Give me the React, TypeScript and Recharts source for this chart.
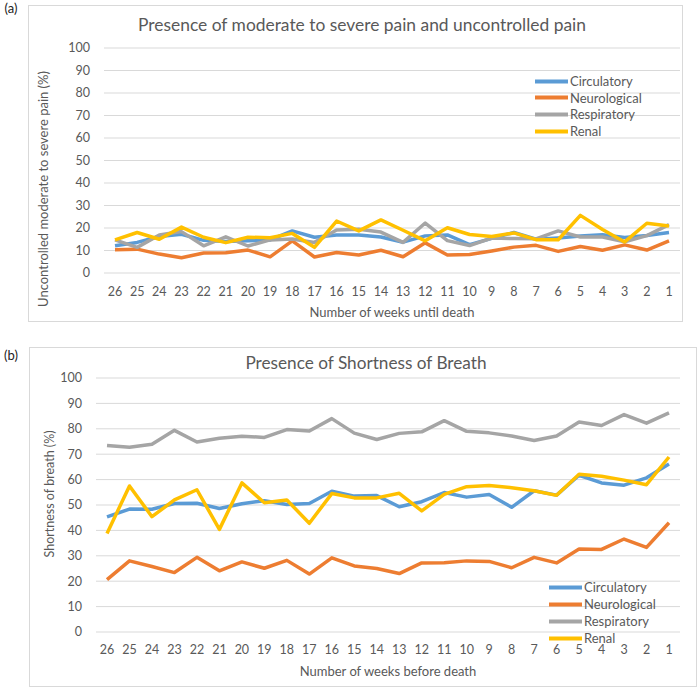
import React from "react";
import { LineChart, Line, XAxis, YAxis, CartesianGrid } from "recharts";

// weeks run from 26 down to 1
const weeks = [
  "26", "25", "24", "23", "22", "21", "20", "19", "18", "17", "16", "15", "14",
  "13", "12", "11", "10", "9", "8", "7", "6", "5", "4", "3", "2", "1",
];

const yTicks = [0, 10, 20, 30, 40, 50, 60, 70, 80, 90, 100];

// (a) uncontrolled moderate to severe pain, %
const painCirculatory = [
  12.1, 13.6, 16.2, 17.2, 14.5, 14.0, 14.3, 14.7, 18.7, 15.9, 16.9, 16.9, 16.0,
  13.7, 16.5, 16.9, 12.6, 15.4, 18.0, 15.0, 15.6, 16.4, 17.0, 15.8, 16.7, 18.0,
];
const painNeurological = [
  10.3, 10.6, 8.4, 6.8, 8.9, 9.0, 10.2, 7.2, 14.3, 7.1, 9.1, 8.0, 10.1,
  7.2, 13.4, 8.0, 8.2, 9.8, 11.5, 12.3, 9.6, 11.8, 10.1, 12.5, 10.2, 14.3,
];
const painRespiratory = [
  14.7, 11.4, 16.9, 18.4, 12.1, 16.1, 12.0, 14.7, 15.1, 13.6, 19.1, 19.4, 18.2,
  13.6, 22.2, 14.4, 12.2, 15.5, 15.3, 15.2, 18.7, 16.0, 16.0, 13.9, 16.6, 21.5,
];
const painRenal = [
  14.7, 18.0, 15.0, 20.4, 15.9, 13.5, 15.9, 15.7, 17.6, 11.4, 23.1, 18.7, 23.6,
  19.0, 14.3, 20.1, 17.1, 16.2, 17.8, 14.8, 14.8, 25.6, 19.3, 13.8, 22.1, 20.9,
];

// (b) shortness of breath, %
const sobCirculatory = [
  45.3, 48.4, 48.3, 50.6, 50.7, 48.6, 50.5, 51.7, 50.2, 50.6, 55.4, 53.5, 53.7,
  49.3, 51.3, 54.9, 53.1, 54.1, 49.1, 55.6, 53.9, 61.7, 58.7, 57.8, 60.7, 66.1,
];
const sobNeurological = [
  20.6, 28.0, 25.8, 23.4, 29.4, 24.1, 27.6, 25.1, 28.2, 22.8, 29.2, 26.0, 25.0,
  23.0, 27.2, 27.3, 28.0, 27.8, 25.3, 29.4, 27.2, 32.7, 32.5, 36.6, 33.3, 43.0,
];
const sobRespiratory = [
  73.4, 72.7, 73.9, 79.4, 74.8, 76.3, 77.1, 76.6, 79.7, 79.1, 84.0, 78.3, 75.8,
  78.2, 78.8, 83.2, 79.0, 78.4, 77.2, 75.4, 77.2, 82.7, 81.3, 85.6, 82.2, 86.3,
];
const sobRenal = [
  38.8, 57.5, 45.4, 52.0, 56.0, 40.4, 58.7, 50.9, 52.0, 42.8, 54.5, 52.8, 52.8,
  54.6, 47.7, 54.2, 57.2, 57.7, 56.8, 55.6, 53.8, 62.1, 61.3, 59.8, 58.0, 68.9,
];

const series = [
  { key: "circulatory", name: "Circulatory", color: "#5B9BD5" },
  { key: "neurological", name: "Neurological", color: "#ED7D31" },
  { key: "respiratory", name: "Respiratory", color: "#A5A5A5" },
  { key: "renal", name: "Renal", color: "#FFC000" },
];

const makeRows = (c: number[], n: number[], r: number[], k: number[]) =>
  weeks.map((week, i) => ({
    week,
    circulatory: c[i],
    neurological: n[i],
    respiratory: r[i],
    renal: k[i],
  }));

const painRows = makeRows(painCirculatory, painNeurological, painRespiratory, painRenal);
const sobRows = makeRows(sobCirculatory, sobNeurological, sobRespiratory, sobRenal);

const FONT = "Lato, 'Open Sans', sans-serif";
const GREY = "#595959";

function CenterText(props: {
  x: number;
  y: number;
  size: number;
  rotate?: boolean;
  color?: string;
  children: React.ReactNode;
}) {
  return (
    <div
      style={{
        position: "absolute",
        left: props.x,
        top: props.y,
        transform: `translate(-50%, -50%)${props.rotate ? " rotate(-90deg)" : ""}`,
        fontSize: props.size,
        color: props.color || GREY,
        whiteSpace: "nowrap",
        lineHeight: 1,
      }}
    >
      {props.children}
    </div>
  );
}

function LegendBlock(props: { x: number; y: number; gap: number }) {
  return (
    <>
      {series.map((s, i) => (
        <div
          key={s.key}
          style={{
            position: "absolute",
            left: props.x,
            top: props.y + i * props.gap,
            transform: "translateY(-50%)",
            display: "flex",
            alignItems: "center",
            fontSize: 13,
            color: GREY,
            lineHeight: 1,
            whiteSpace: "nowrap",
          }}
        >
          <span style={{ width: 33, height: 4, background: s.color, marginRight: 2 }} />
          <span>{s.name}</span>
        </div>
      ))}
    </>
  );
}

function Panel(props: {
  rows: typeof painRows;
  width: number;
  height: number;
  margin: { top: number; right: number; left: number; bottom: number };
  yWidth: number;
  xHeight: number;
  xMargin: number;
  pad: number;
}) {
  return (
    <LineChart
      width={props.width}
      height={props.height}
      data={props.rows}
      margin={props.margin}
    >
      <CartesianGrid vertical={false} stroke="#d9d9d9" strokeWidth={1} />
      <XAxis
        dataKey="week"
        interval={0}
        axisLine={false}
        tickLine={false}
        tickSize={0}
        tickMargin={props.xMargin}
        height={props.xHeight}
        padding={{ left: props.pad, right: props.pad }}
        tick={{ fill: GREY, fontSize: 12.5, fontFamily: FONT }}
      />
      <YAxis
        domain={[0, 100]}
        ticks={yTicks}
        interval={0}
        width={props.yWidth}
        axisLine={false}
        tickLine={false}
        tickSize={0}
        tickMargin={14}
        tick={{ fill: GREY, fontSize: 12.5, fontFamily: FONT }}
      />
      {series.map((s) => (
        <Line
          key={s.key}
          type="linear"
          dataKey={s.key}
          name={s.name}
          stroke={s.color}
          strokeWidth={3.5}
          strokeLinejoin="round"
          dot={false}
          activeDot={false}
          isAnimationActive={false}
        />
      ))}
    </LineChart>
  );
}

export default function App() {
  return (
    <div
      style={{
        position: "absolute",
        left: 0,
        top: 0,
        width: 700,
        height: 690,
        background: "#fff",
        fontFamily: FONT,
      }}
    >
      <CenterText x={11} y={8} size={13} color="#222">(a)</CenterText>
      <div
        style={{
          position: "absolute",
          left: 28,
          top: 5,
          width: 655,
          height: 317,
          border: "1px solid #d9d9d9",
          boxSizing: "border-box",
        }}
      >
        <Panel
          rows={painRows}
          width={653}
          height={315}
          margin={{ top: 42, right: 2, left: 0, bottom: 0 }}
          yWidth={75}
          xHeight={48}
          xMargin={14}
          pad={11}
        />
      </div>
      <CenterText x={362} y={25} size={17.4}>
        Presence of moderate to severe pain and uncontrolled pain
      </CenterText>
      <CenterText x={43} y={189} size={13} rotate>
        Uncontrolled moderate to severe pain (%)
      </CenterText>
      <CenterText x={392} y={312} size={13}>
        Number of weeks until death
      </CenterText>
      <LegendBlock x={535} y={81} gap={16.7} />

      <CenterText x={11} y={355} size={13} color="#222">(b)</CenterText>
      <div
        style={{
          position: "absolute",
          left: 29,
          top: 347,
          width: 668,
          height: 340,
          border: "1px solid #d9d9d9",
          boxSizing: "border-box",
        }}
      >
        <Panel
          rows={sobRows}
          width={666}
          height={338}
          margin={{ top: 30, right: 16, left: 0, bottom: 0 }}
          yWidth={66}
          xHeight={54}
          xMargin={13}
          pad={11}
        />
      </div>
      <CenterText x={366} y={363} size={17.2}>
        Presence of Shortness of Breath
      </CenterText>
      <CenterText x={50} y={494} size={12.5} rotate>
        Shortness of breath (%)
      </CenterText>
      <CenterText x={388} y={671} size={13}>
        Number of weeks before death
      </CenterText>
      <LegendBlock x={549} y={587} gap={17} />
    </div>
  );
}
